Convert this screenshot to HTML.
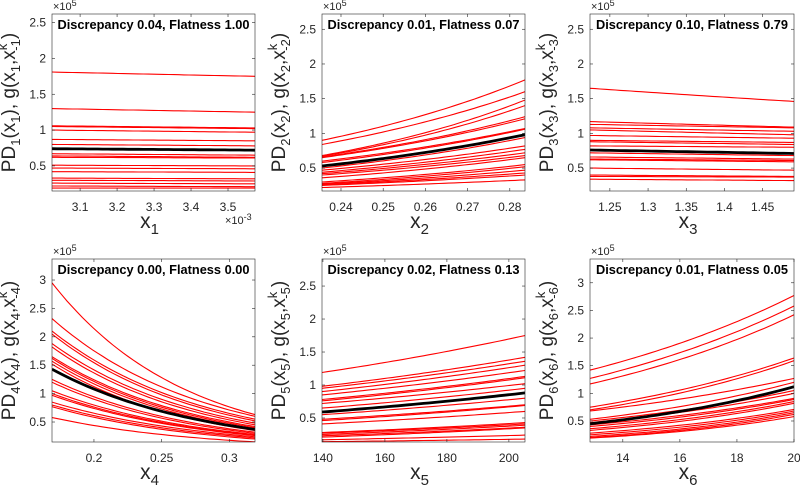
<!DOCTYPE html>
<html><head><meta charset="utf-8"><style>
body{margin:0;background:#fff}
svg{display:block;font-family:"Liberation Sans",sans-serif}
</style></head><body>
<svg id="c" width="800" height="487"></svg>
<script>
// Panel data: each line = [value at xmin, value at xmax] (×10^5); black = reference line
const p1Red=[[1.81,1.75],[1.30,1.25],[1.06,1.03],[1.05,1.02],[1.00,0.97],[0.87,0.85],[0.80,0.78],[0.67,0.65],[0.64,0.62],[0.62,0.61],[0.51,0.50],[0.47,0.46],[0.42,0.41],[0.33,0.32],[0.30,0.29],[0.26,0.25],[0.22,0.21],[0.19,0.19]];
const p1Black=[0.74,0.72];
const p2Red=[[0.90,1.77],[0.84,1.60],[0.68,1.48],[0.67,1.40],[0.66,1.24],[0.65,1.21],[0.60,1.07],[0.58,1.06],[0.50,0.94],[0.47,0.82],[0.44,0.77],[0.42,0.72],[0.40,0.68],[0.36,0.65],[0.30,0.55],[0.28,0.52],[0.27,0.47],[0.26,0.43],[0.25,0.40],[0.22,0.33]];
const p2Black=[0.53,0.98];
const p3Red=[[1.65,1.46],[1.17,1.09],[1.13,1.08],[1.08,1.03],[1.05,0.98],[0.97,0.93],[0.90,0.87],[0.88,0.84],[0.82,0.80],[0.72,0.68],[0.66,0.63],[0.63,0.61],[0.62,0.59],[0.50,0.47],[0.40,0.38],[0.38,0.37],[0.34,0.32]];
const p3Black=[0.76,0.71];
const p4Red=[[2.95,0.63],[2.32,0.60],[2.10,0.55],[2.05,0.52],[1.88,0.48],[1.82,0.45],[1.65,0.42],[1.62,0.40],[1.57,0.38],[1.52,0.35],[1.25,0.32],[1.20,0.30],[1.05,0.28],[1.00,0.27],[0.97,0.26],[0.85,0.24],[0.80,0.22],[0.77,0.20],[0.58,0.15]];
const p4Black=[1.43,0.37];
const p5Red=[[1.19,1.75],[0.98,1.42],[0.95,1.36],[0.90,1.30],[0.85,1.22],[0.78,1.13],[0.76,1.11],[0.72,1.02],[0.65,0.95],[0.55,0.80],[0.48,0.70],[0.46,0.69],[0.41,0.60],[0.28,0.43],[0.27,0.41],[0.25,0.39],[0.23,0.36],[0.21,0.35],[0.17,0.24],[0.14,0.18]];
const p5Black=[0.59,0.88];
const p6Red=[[1.42,2.77],[1.27,2.58],[1.17,2.42],[0.75,1.64],[0.70,1.59],[0.68,1.27],[0.53,1.20],[0.50,1.05],[0.47,1.00],[0.43,0.91],[0.40,0.89],[0.36,0.85],[0.33,0.82],[0.28,0.71],[0.25,0.68],[0.22,0.65],[0.20,0.62],[0.19,0.58]];
const p6Black=[0.45,1.12];
const titles=["Discrepancy 0.04, Flatness 1.00","Discrepancy 0.01, Flatness 0.07","Discrepancy 0.10, Flatness 0.79","Discrepancy 0.00, Flatness 0.00","Discrepancy 0.02, Flatness 0.13","Discrepancy 0.01, Flatness 0.05"];
const xTicks=[[3.1,3.2,3.3,3.4,3.5],[0.24,0.25,0.26,0.27,0.28],[1.25,1.3,1.35,1.4,1.45],[0.2,0.25,0.3],[140,160,180,200],[14,16,18,20]];
const xTickLabels=[["3.1","3.2","3.3","3.4","3.5"],["0.24","0.25","0.26","0.27","0.28"],["1.25","1.3","1.35","1.4","1.45"],["0.2","0.25","0.3"],["140","160","180","200"],["14","16","18","20"]];
const yTicks=[[0.5,1,1.5,2,2.5],[0.5,1,1.5,2,2.5],[0.5,1,1.5,2,2.5],[0.5,1,1.5,2,2.5,3],[0.5,1,1.5,2,2.5],[0.5,1,1.5,2,2.5,3]];
const yTickLabels=[["0.5","1","1.5","2","2.5"],["0.5","1","1.5","2","2.5"],["0.5","1","1.5","2","2.5"],["0.5","1","1.5","2","2.5","3"],["0.5","1","1.5","2","2.5"],["0.5","1","1.5","2","2.5","3"]];
const xLims=[[3.024,3.573],[0.2355,0.2836],[1.224,1.491],[0.169,0.319],[139.7,205.2],[12.85,20]];
const yLims=[[0.15,2.62],[0.17,2.72],[0.17,2.72],[0.148,3.37],[0.136,2.91],[0.12,3.43]];
const reds=[p1Red,p2Red,p3Red,p4Red,p5Red,p6Red];
const blacks=[p1Black,p2Black,p3Black,p4Black,p5Black,p6Black];
const boxes=[[52,14,255,191],[322,14,525,191],[590,14,794,191],[52,259,255,442],[322,259,525,442],[590,259,794,442]];
const NS="http://www.w3.org/2000/svg";
const svg=document.getElementById('c');
function mk(tag,attrs,parent){const e=document.createElementNS(NS,tag);for(const k in attrs)e.setAttribute(k,attrs[k]);(parent||svg).appendChild(e);return e;}
for(let i=0;i<6;i++){
  const [L,T,R,B]=boxes[i],[x0,x1]=xLims[i],[y0,y1]=yLims[i];
  const sx=v=>L+(v-x0)/(x1-x0)*(R-L), sy=v=>B-(v-y0)/(y1-y0)*(B-T);
  const g=mk('g',{});
  
  
  const cp=mk('clipPath',{id:'cp'+i},g);
  mk('rect',{x:L,y:T,width:R-L,height:B-T},cp);
  const lg=mk('g',{'clip-path':'url(#cp'+i+')'},g);
  function line(pair,color,w,name){
    let d='';
    for(let k=0;k<=40;k++){const t=k/40;const v=pair[0]*Math.pow(pair[1]/pair[0],t);const xv=x0+(x1-x0)*t;d+=(k?'L':'M')+sx(xv).toFixed(1)+' '+sy(v).toFixed(1);}
    const p=mk('path',{d:d,fill:'none',stroke:color,'stroke-width':w},lg);
    
    
  }
  reds[i].forEach((pr,j)=>line(pr,'#f00',1.1,'ice-line'));
  line(blacks[i],'#000',2.8,'pd-line');
  const bx=mk('rect',{x:L,y:T,width:R-L,height:B-T,fill:'none',stroke:'#262626','stroke-width':0.6},g);
  
  
  xTicks[i].forEach((v,j)=>{const X=sx(v);
    mk('line',{x1:X,x2:X,y1:B,y2:B-3,stroke:'#262626','stroke-width':0.6},g);
    mk('line',{x1:X,x2:X,y1:T,y2:T+3,stroke:'#262626','stroke-width':0.6},g);
    const t=mk('text',{x:X,y:B+20,'text-anchor':'middle','font-size':12,fill:'#262626'},g);t.textContent=xTickLabels[i][j];
    
    });
  yTicks[i].forEach((v,j)=>{const Y=sy(v);
    mk('line',{x1:L,x2:L+3,y1:Y,y2:Y,stroke:'#262626','stroke-width':0.6},g);
    mk('line',{x1:R,x2:R-3,y1:Y,y2:Y,stroke:'#262626','stroke-width':0.6},g);
    const t=mk('text',{x:L-6,y:Y+4,'text-anchor':'end','font-size':12,fill:'#262626'},g);t.textContent=yTickLabels[i][j];
    
    });
  const n=i+1;
  const ex=mk('text',{x:L+1,y:T-4,'font-size':11,fill:'#262626'},g);ex.innerHTML='×10<tspan dy="-4" font-size="9">5</tspan>';
  
  
  const tt=mk('text',{x:(L+R)/2,y:T+15,'text-anchor':'middle','font-size':12.5,'font-weight':'bold',fill:'#000',textLength:192,lengthAdjust:'spacingAndGlyphs'},g);tt.textContent=titles[i];
  
  
  const xl=mk('text',{x:(L+R)/2-4,y:B+37,'text-anchor':'middle','font-size':21,fill:'#262626'},g);xl.innerHTML='x<tspan dy="6" font-size="15">'+n+'</tspan>';
  
  
  const cy=(T+B)/2;
  const yl=mk('text',{x:0,y:0,'text-anchor':'middle','font-size':19,fill:'#262626',transform:'translate('+(L-37)+','+cy+') rotate(-90)'},g);
  yl.innerHTML='PD<tspan dy="5" font-size="13">'+n+'</tspan><tspan dy="-5">(x</tspan><tspan dy="5" font-size="13">'+n+'</tspan><tspan dy="-5">), g(x</tspan><tspan dy="5" font-size="13">'+n+'</tspan><tspan dy="-5">,x</tspan><tspan dy="-8" font-size="13">k</tspan><tspan dx="-7" dy="13" font-size="13">-'+n+'</tspan><tspan dy="-5">)</tspan>';
  
  
  if(i===0){const e3=mk('text',{x:R-30,y:B+33,'text-anchor':'start','font-size':11,fill:'#262626'},g);e3.innerHTML='×10<tspan dy="-4" font-size="9">-3</tspan>';
    
    }
}
</script>
</body></html>
